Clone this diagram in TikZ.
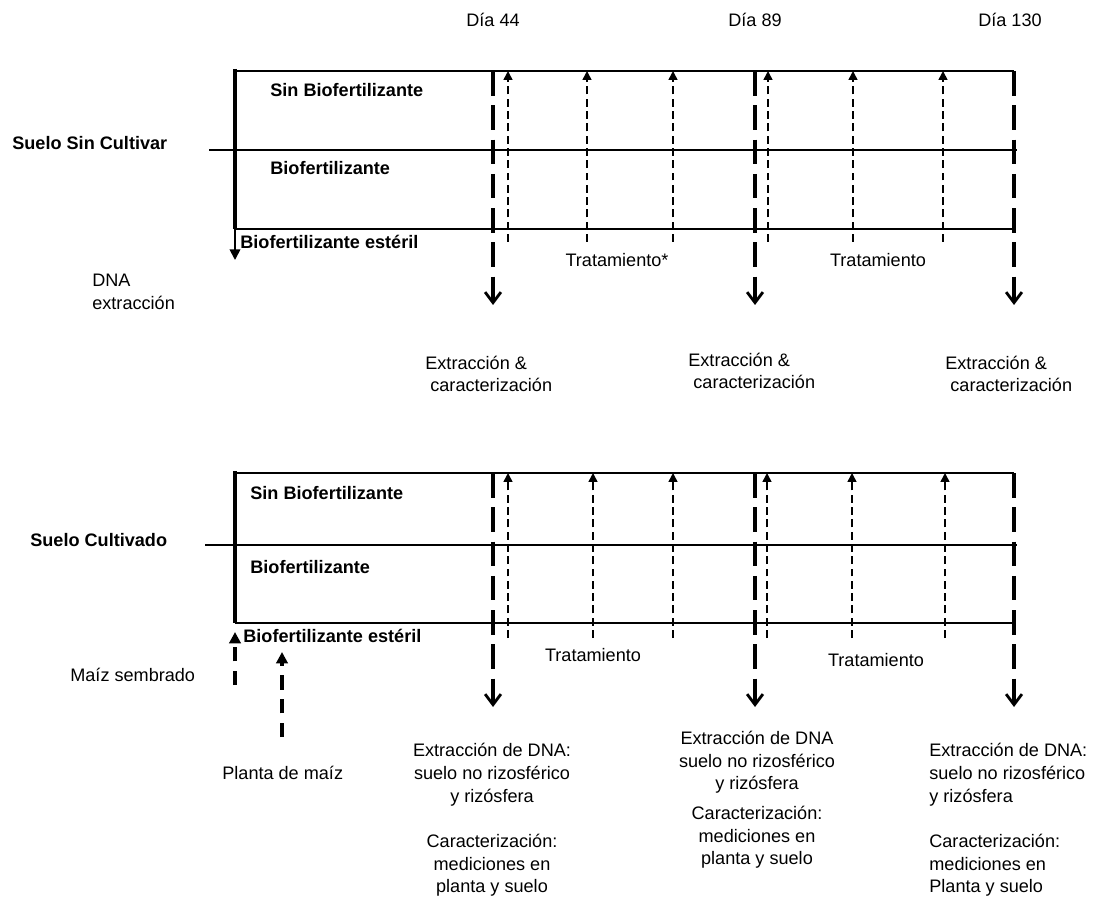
\documentclass[tikz,border=0pt]{standalone}
\usepackage{fontspec}
\setmainfont{Liberation Sans}
\usetikzlibrary{arrows.meta}

\begin{document}
\begin{tikzpicture}
  [
    txt/.style={font=\fontsize{10.3}{12.9}\selectfont, inner sep=0pt},
    lbl/.style={font=\fontsize{10.3}{12.9}\selectfont\bfseries, inner sep=0pt},
    rowline/.style={line width=1.1pt},
    start/.style={line width=2.8pt},
    sample/.style={line width=2.2pt, dash pattern=on 14pt off 5.5pt,
      -{Straight Barb[length=6pt, width=9pt, line width=1.6pt]}},
    treat/.style={line width=0.85pt, dash pattern=on 4.5pt off 2.5pt,
      -{Triangle[length=5pt, width=5pt]}},
    sown/.style={line width=2pt, dash pattern=on 8pt off 5.5pt,
      -{Triangle[length=6.5pt, width=6.5pt]}}
  ]
  \useasboundingbox (0, 0) rectangle (21.88, 18);

  % days
  \node[txt] (d44)  at (9.86, 17.60)  {Día 44};
  \node[txt] (d89)  at (15.10, 17.60) {Día 89};
  \node[txt] (d130) at (20.20, 17.60) {Día 130};

  % suelo sin cultivar
  \draw[rowline] (4.70, 16.58) -- (20.28, 16.58);
  \draw[rowline] (4.18, 15.00) -- (20.34, 15.00);
  \draw[rowline] (4.70, 13.42) -- (20.28, 13.42);
  \draw[start] (4.70, 16.62) -- (4.70, 13.42);
  \draw[line width=1pt, -{Triangle[length=6pt, width=6pt]}] (4.70, 13.42) -- (4.70, 12.80);

  \foreach \x in {10.16, 11.74, 13.46, 15.36, 17.06, 18.86}
    \draw[treat] (\x, 13.16) -- (\x, 16.58);
  \foreach \x in {9.86, 15.10, 20.28}
    \draw[sample] (\x, 16.58) -- (\x, 11.90);

  \node[lbl, anchor=west] (ucsin) at (5.40, 16.20) {Sin Biofertilizante};
  \node[lbl, anchor=west] (ucbio) at (5.40, 14.64) {Biofertilizante};
  \node[lbl, anchor=west] (ucest) at (4.80, 13.16) {Biofertilizante estéril};
  \node[lbl, anchor=west] (uncult) at (0.24, 15.14) {Suelo Sin Cultivar};
  \node[txt, anchor=west, align=left] (dnaext) at (1.84, 12.16) {DNA\\extracción};
  \node[txt] (uctreat1) at (12.34, 12.80) {Tratamiento*};
  \node[txt] (uctreat2) at (17.56, 12.80) {Tratamiento};

  \node[txt, anchor=west, align=left] (ucext1) at (8.50, 10.52)
    {Extracción \&\\~caracterización};
  \node[txt, anchor=west, align=left] (ucext2) at (13.76, 10.58)
    {Extracción \&\\~caracterización};
  \node[txt, anchor=west, align=left] (ucext3) at (18.90, 10.52)
    {Extracción \&\\~caracterización};

  % suelo cultivado
  \draw[rowline] (4.70, 8.54) -- (20.28, 8.54);
  \draw[rowline] (4.10, 7.10) -- (20.34, 7.10);
  \draw[rowline] (4.70, 5.54) -- (20.28, 5.54);
  \draw[start] (4.70, 8.58) -- (4.70, 5.54);

  \foreach \x in {10.16, 11.86, 13.46, 15.34, 17.04, 18.90}
    \draw[treat] (\x, 5.24) -- (\x, 8.54);
  \foreach \x in {9.86, 15.10, 20.28}
    \draw[sample] (\x, 8.54) -- (\x, 3.86);

  \draw[sown] (4.70, 4.30) -- (4.70, 5.36);
  \draw[sown] (5.64, 3.26) -- (5.64, 4.96);

  \node[lbl, anchor=west] (csin) at (5.00, 8.14) {Sin Biofertilizante};
  \node[lbl, anchor=west] (cbio) at (5.00, 6.66) {Biofertilizante};
  \node[lbl, anchor=west] (cest) at (4.86, 5.28) {Biofertilizante estéril};
  \node[lbl, anchor=west] (cult) at (0.60, 7.20) {Suelo Cultivado};
  \node[txt, anchor=west] (sembrado) at (1.40, 4.50) {Maíz sembrado};
  \node[txt, anchor=west] (planta) at (4.44, 2.54) {Planta de maíz};
  \node[txt] (ctreat1) at (11.86, 4.90) {Tratamiento};
  \node[txt] (ctreat2) at (17.52, 4.80) {Tratamiento};

  \node[txt, align=center] (cext1) at (9.84, 1.60)
    {Extracción de DNA:\\suelo no rizosférico\\y rizósfera\\[12.9pt]
     Caracterización:\\mediciones en\\planta y suelo};
  \node[txt, align=center] (cext2) at (15.14, 2.00)
    {Extracción de DNA\\suelo no rizosférico\\y rizósfera\\[4pt]
     Caracterización:\\mediciones en\\planta y suelo};
  \node[txt, anchor=west, align=left] (cext3) at (18.58, 1.60)
    {Extracción de DNA:\\suelo no rizosférico\\y rizósfera\\[12.9pt]
     Caracterización:\\mediciones en\\Planta y suelo};
\end{tikzpicture}
\end{document}
